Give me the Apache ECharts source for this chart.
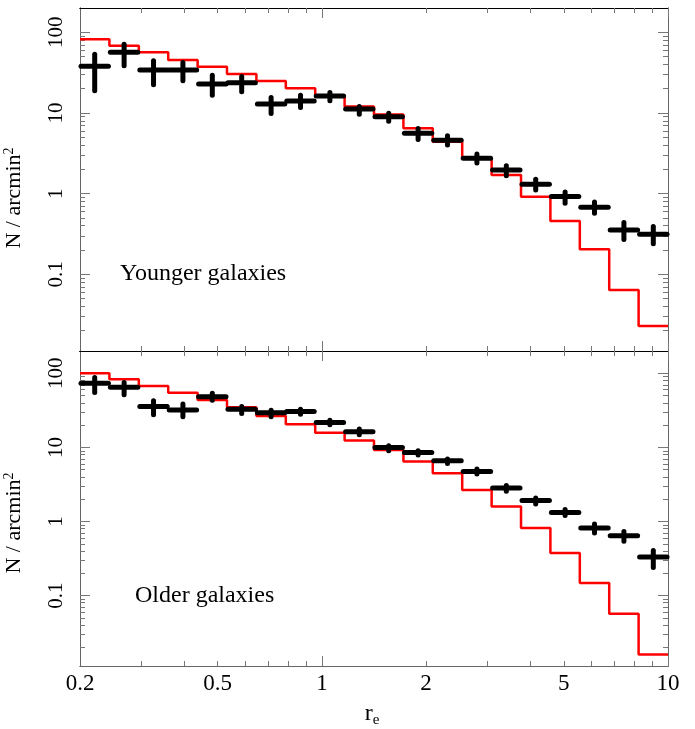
<!DOCTYPE html>
<html>
<head>
<meta charset="utf-8">
<script src="https://cdn.jsdelivr.net/npm/echarts@6/dist/echarts.min.js"></script>
<style>
  html, body { margin: 0; padding: 0; background: #fff; }
  #chart { width: 695px; height: 729px; }
</style>
</head>
<body>
<div id="chart"></div>
<script>
// bin edges in r_e (20 equal bins in log r_e)
const edges = [0.2, 0.2432, 0.2958, 0.3597, 0.4374, 0.5318, 0.6467, 0.7865, 0.9564, 1.163,
  1.414, 1.720, 2.091, 2.543, 3.093, 3.761, 4.573, 5.561, 6.763, 8.224, 10];

// younger galaxies
const youngObs = [38, 56.5, 34, 34, 22.9, 23.7, 12.9, 14.1, 16.2, 11.2, 9.0, 5.6, 4.6, 2.74, 1.96, 1.31, 0.92, 0.68, 0.354, 0.313];
const youngLo  = [18.8, 38.5, 22.3, 25.1, 16.6, 18.3, 9.84, 11.7, 14.2, 9.66, 7.9, 4.7, 4.0, 2.4, 1.66, 1.11, 0.76, 0.57, 0.27, 0.24];
const youngHi  = [53.6, 71.1, 44.4, 42.3, 29.4, 28.3, 15.6, 16.6, 17.9, 12.0, 9.93, 6.4, 5.2, 3.1, 2.22, 1.51, 1.05, 0.79, 0.44, 0.39];
const youngModel = [81.9, 68.2, 56.5, 45.4, 37.5, 30.4, 24.9, 20.2, 15.9, 12.0, 9.6, 6.46, 4.41, 2.74, 1.70, 0.916, 0.458, 0.204, 0.064, 0.0229];

// older galaxies
const oldObs = [73.3, 64.7, 35.5, 32, 48.4, 32.7, 29.4, 30.4, 21.6, 16.3, 9.93, 8.5, 6.58, 4.72, 2.82, 1.92, 1.32, 0.815, 0.641, 0.331];
const oldLo  = [55.1, 51.3, 27.6, 26.0, 43.4, 28.7, 26.0, 28.1, 20.2, 14.8, 9.0, 7.9, 6.08, 4.37, 2.55, 1.72, 1.2, 0.7, 0.54, 0.24];
const oldHi  = [87.8, 75.2, 42.6, 38.4, 53.9, 35.7, 31.8, 32.8, 23.3, 17.7, 10.5, 9.0, 6.95, 5.1, 3.05, 2.07, 1.45, 0.925, 0.73, 0.405];
const oldModel = [100, 83, 67.4, 54.8, 43.6, 34.8, 26.6, 20.6, 15.8, 12.4, 9.25, 6.44, 4.49, 2.67, 1.59, 0.815, 0.375, 0.148, 0.057, 0.016];

// ticks
const xLabels = [0.2, 0.5, 1, 2, 5, 10];
const xMajor = [1, 10];
const xMinor = [0.3, 0.4, 0.5, 0.6, 0.7, 0.8, 0.9, 2, 3, 4, 5, 6, 7, 8, 9];
const yMajor = [0.1, 1, 10, 100];
const yMinor = [0.02, 0.03, 0.04, 0.05, 0.06, 0.07, 0.08, 0.09, 0.2, 0.3, 0.4, 0.5, 0.6, 0.7, 0.8, 0.9,
  2, 3, 4, 5, 6, 7, 8, 9, 20, 30, 40, 50, 60, 70, 80, 90];

const X_MIN = 0.2, X_MAX = 10;
const Y_MIN = 0.0112, Y_MAX = 200;
const FONT = 'Liberation Serif';

function fmt(v) { return String(+Number(v).toPrecision(3)); }

function xAxisDef(grid, pos, ticks, len, lineColor, labels) {
  return {
    type: 'log', logBase: 10, gridIndex: grid, position: pos, min: X_MIN, max: X_MAX,
    axisLine: { show: true, onZero: false, lineStyle: { color: lineColor, width: 1 } },
    axisTick: { show: true, inside: true, length: len, customValues: ticks, lineStyle: { color: '#777' } },
    axisLabel: labels ? {
      show: true, customValues: xLabels, formatter: fmt, margin: 6,
      color: '#000', fontSize: 23, fontFamily: FONT
    } : { show: false },
    splitLine: { show: false }
  };
}

function yAxisDef(grid, pos, ticks, len, labels) {
  return {
    type: 'log', logBase: 10, gridIndex: grid, position: pos, min: Y_MIN, max: Y_MAX,
    axisLine: { show: true, onZero: false, lineStyle: { color: '#666', width: 1 } },
    axisTick: { show: true, inside: true, length: len, customValues: ticks, lineStyle: { color: '#777' } },
    axisLabel: labels ? {
      show: true, customValues: yMajor, formatter: fmt, rotate: 90, margin: 13,
      color: '#000', fontSize: 21, fontFamily: FONT
    } : { show: false },
    splitLine: { show: false }
  };
}

function crossData(obs, lo, hi) {
  return obs.map((v, i) => [edges[i], edges[i + 1], v, lo[i], hi[i]]);
}

function stepData(model) {
  return edges.map((e, i) => [e, model[Math.min(i, model.length - 1)]]);
}

function renderCross(params, api) {
  const a = api.coord([api.value(0), api.value(2)]);
  const b = api.coord([api.value(1), api.value(2)]);
  const lo = api.coord([api.value(0), api.value(3)]);
  const hi = api.coord([api.value(0), api.value(4)]);
  const cx = (a[0] + b[0]) / 2;
  const st = { stroke: '#000', lineWidth: 5, lineCap: 'round' };
  return {
    type: 'group',
    children: [
      { type: 'line', shape: { x1: a[0] + 1, y1: a[1], x2: b[0] - 1, y2: b[1] }, style: st },
      { type: 'line', shape: { x1: cx, y1: hi[1], x2: cx, y2: lo[1] }, style: st }
    ]
  };
}

const chart = echarts.init(document.getElementById('chart'), null, { renderer: 'canvas' });

const option = {
  backgroundColor: '#fff',
  animation: false,
  grid: [
    { left: 80, top: 8, width: 588, height: 343 },
    { left: 80, top: 351, width: 588, height: 315 }
  ],
  xAxis: [
    xAxisDef(0, 'bottom', xMajor, 10, '#000', false),
    xAxisDef(0, 'bottom', xMinor, 5, '#000', false),
    xAxisDef(0, 'top', xMajor, 10, '#000', false),
    xAxisDef(0, 'top', xMinor, 5, '#000', false),
    xAxisDef(1, 'bottom', xMajor, 10, '#666', true),
    xAxisDef(1, 'bottom', xMinor, 5, '#666', false),
    xAxisDef(1, 'top', xMajor, 10, '#000', false),
    xAxisDef(1, 'top', xMinor, 5, '#000', false)
  ],
  yAxis: [
    yAxisDef(0, 'left', yMajor, 10, true),
    yAxisDef(0, 'left', yMinor, 5, false),
    yAxisDef(0, 'right', yMajor, 10, false),
    yAxisDef(0, 'right', yMinor, 5, false),
    yAxisDef(1, 'left', yMajor, 10, true),
    yAxisDef(1, 'left', yMinor, 5, false),
    yAxisDef(1, 'right', yMajor, 10, false),
    yAxisDef(1, 'right', yMinor, 5, false)
  ],
  series: [
    {
      name: 'young model', type: 'line', step: 'end', xAxisIndex: 0, yAxisIndex: 0,
      data: stepData(youngModel), showSymbol: false, symbol: 'none',
      lineStyle: { color: '#ff0000', width: 2.5 }, z: 2
    },
    {
      name: 'young obs', type: 'custom', xAxisIndex: 0, yAxisIndex: 0,
      data: crossData(youngObs, youngLo, youngHi), renderItem: renderCross, clip: false, z: 3
    },
    {
      name: 'old model', type: 'line', step: 'end', xAxisIndex: 4, yAxisIndex: 4,
      data: stepData(oldModel), showSymbol: false, symbol: 'none',
      lineStyle: { color: '#ff0000', width: 2.5 }, z: 2
    },
    {
      name: 'old obs', type: 'custom', xAxisIndex: 4, yAxisIndex: 4,
      data: crossData(oldObs, oldLo, oldHi), renderItem: renderCross, clip: false, z: 3
    }
  ],
  graphic: [
    {
      type: 'text', x: 14, y: 198, rotation: Math.PI / 2,
      style: {
        text: 'N / arcmin{sup|2}', fill: '#000', font: '22px "Liberation Serif"',
        align: 'center', verticalAlign: 'middle',
        rich: { sup: { fontSize: 14, fontFamily: FONT, verticalAlign: 'top', padding: [0, 0, 10, 0] } }
      }
    },
    {
      type: 'text', x: 14, y: 523, rotation: Math.PI / 2,
      style: {
        text: 'N / arcmin{sup|2}', fill: '#000', font: '22px "Liberation Serif"',
        align: 'center', verticalAlign: 'middle',
        rich: { sup: { fontSize: 14, fontFamily: FONT, verticalAlign: 'top', padding: [0, 0, 10, 0] } }
      }
    },
    {
      type: 'text', x: 120, y: 274,
      style: { text: 'Younger galaxies', fill: '#000', font: '24px "Liberation Serif"', align: 'left', verticalAlign: 'middle' }
    },
    {
      type: 'text', x: 135, y: 596,
      style: { text: 'Older galaxies', fill: '#000', font: '24px "Liberation Serif"', align: 'left', verticalAlign: 'middle' }
    },
    {
      type: 'text', x: 372, y: 714,
      style: {
        text: 'r{sub|e}', fill: '#000', font: '24px "Liberation Serif"',
        align: 'center', verticalAlign: 'middle',
        rich: { sub: { fontSize: 15, fontFamily: FONT, padding: [12, 0, 0, 0] } }
      }
    }
  ]
};

chart.setOption(option);
</script>
</body>
</html>
